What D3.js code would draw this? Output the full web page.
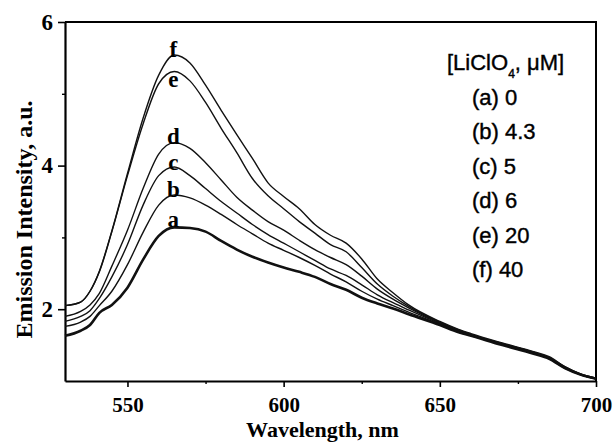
<!DOCTYPE html>
<html>
<head>
<meta charset="utf-8">
<script src="https://cdn.jsdelivr.net/npm/d3@7"></script>
<style>
  body { margin: 0; background: #fff; }
  svg { display: block; }
</style>
</head>
<body>
<div class="chart"></div>
<script>
// wavelength grid, nm
const wavelength = [530, 535, 538, 541, 545, 550, 555, 560, 565, 570, 575, 580, 585, 590, 595, 600, 605, 610, 615, 620, 625, 630, 635, 640, 650, 656, 660, 670, 680, 685, 690, 695, 700]

// emission intensity, a.u.
const seriesA = [1.63, 1.70, 1.78, 1.95, 2.06, 2.30, 2.69, 3.02, 3.14, 3.13, 3.08, 2.95, 2.83, 2.73, 2.65, 2.58, 2.52, 2.45, 2.35, 2.27, 2.16, 2.08, 2.01, 1.93, 1.78, 1.68, 1.63, 1.50, 1.38, 1.31, 1.18, 1.09, 1.03]
const seriesB = [1.76, 1.82, 1.90, 2.05, 2.25, 2.62, 3.07, 3.45, 3.59, 3.55, 3.45, 3.32, 3.18, 3.05, 2.92, 2.82, 2.72, 2.61, 2.49, 2.38, 2.25, 2.14, 2.05, 1.96, 1.79, 1.68, 1.63, 1.51, 1.39, 1.31, 1.18, 1.09, 1.03]
const seriesC = [1.83, 1.90, 1.98, 2.15, 2.45, 2.90, 3.45, 3.86, 3.98, 3.86, 3.68, 3.50, 3.34, 3.18, 3.04, 2.92, 2.80, 2.68, 2.56, 2.47, 2.34, 2.20, 2.09, 1.99, 1.80, 1.69, 1.64, 1.51, 1.39, 1.32, 1.19, 1.09, 1.03]
const seriesD = [1.90, 1.97, 2.06, 2.22, 2.60, 3.10, 3.68, 4.16, 4.32, 4.24, 4.04, 3.80, 3.56, 3.38, 3.22, 3.10, 2.96, 2.83, 2.72, 2.62, 2.46, 2.28, 2.14, 2.02, 1.81, 1.70, 1.64, 1.52, 1.40, 1.32, 1.19, 1.09, 1.03]
const seriesE = [2.05, 2.10, 2.25, 2.52, 3.08, 3.86, 4.58, 5.14, 5.31, 5.18, 4.88, 4.52, 4.18, 3.82, 3.58, 3.40, 3.22, 3.06, 2.90, 2.80, 2.58, 2.35, 2.18, 2.04, 1.82, 1.71, 1.65, 1.52, 1.40, 1.33, 1.20, 1.10, 1.04]
const seriesF = [2.05, 2.10, 2.25, 2.53, 3.09, 3.89, 4.66, 5.26, 5.54, 5.43, 5.12, 4.77, 4.43, 4.10, 3.76, 3.57, 3.40, 3.18, 3.03, 2.92, 2.70, 2.42, 2.23, 2.06, 1.83, 1.72, 1.66, 1.53, 1.41, 1.34, 1.20, 1.10, 1.04]

const curveLabels = ['a', 'b', 'c', 'd', 'e', 'f']
const concentrations = ['0', '4.3', '5', '6', '20', '40']

const xTicks = [550, 600, 650, 700]
const xMinorTicks = [575, 625, 675]
const yTicks = [2, 4, 6]
const yMinorTicks = [3, 5]

const allSeries = [seriesA, seriesB, seriesC, seriesD, seriesE, seriesF]

let width = 615
let height = 445
let margin = {top: 22, right: 19, bottom: 64, left: 65}

const svg = d3.select('.chart').append('svg')
  .attr('width', width)
  .attr('height', height)
  .attr('viewBox', [0, 0, width, height])

let x = d3.scaleLinear()
  .domain([530, 700])
  .range([margin.left, width - margin.right])

let y = d3.scaleLinear()
  .domain([1, 6])
  .range([height - margin.bottom, margin.top])

const serif = '"Liberation Serif", "Times New Roman", serif'
const sans = '"Liberation Sans", Arial, sans-serif'

// frame (top + right)
svg.append('path')
  .attr('d', `M${x(530)},${y(6)}H${x(700)}V${y(1)}`)
  .attr('fill', 'none')
  .attr('stroke', '#000')
  .attr('stroke-width', 2)

// axes
let styleAxis = g => {
  g.select('.domain').attr('stroke-width', 2.2)
  g.selectAll('.tick line').attr('stroke-width', 1.6)
  g.selectAll('.tick text')
    .attr('font-family', serif)
    .attr('font-size', 21)
    .attr('font-weight', 'bold')
    .attr('fill', '#000')
}

svg.append('g')
  .attr('transform', `translate(0,${y(1)})`)
  .call(d3.axisBottom(x).tickValues(xTicks).tickSize(6).tickPadding(10).tickSizeOuter(0))
  .call(styleAxis)

svg.append('g')
  .attr('transform', `translate(0,${y(1)})`)
  .call(d3.axisBottom(x).tickValues(xMinorTicks).tickSize(3).tickFormat('').tickSizeOuter(0))
  .call(g => g.select('.domain').remove())
  .call(g => g.selectAll('.tick line').attr('stroke-width', 1.4))

svg.append('g')
  .attr('transform', `translate(${x(530)},0)`)
  .call(d3.axisLeft(y).tickValues(yTicks).tickFormat(d3.format('d')).tickSize(7).tickPadding(5).tickSizeOuter(0))
  .call(styleAxis)
  .call(g => g.selectAll('.tick text').attr('font-size', 23))

svg.append('g')
  .attr('transform', `translate(${x(530)},0)`)
  .call(d3.axisLeft(y).tickValues(yMinorTicks).tickSize(3).tickFormat('').tickSizeOuter(0))
  .call(g => g.select('.domain').remove())
  .call(g => g.selectAll('.tick line').attr('stroke-width', 1.4))

// axis titles
svg.append('text')
  .attr('x', (x(530) + x(700)) / 2 - 8)
  .attr('y', 437)
  .attr('text-anchor', 'middle')
  .attr('font-family', serif)
  .attr('font-size', 22)
  .attr('font-weight', 'bold')
  .text('Wavelength, nm')

svg.append('text')
  .attr('transform', `translate(32,${(y(1) + y(6)) / 2 + 18}) rotate(-90)`)
  .attr('text-anchor', 'middle')
  .attr('font-family', serif)
  .attr('font-size', 24)
  .attr('font-weight', 'bold')
  .text('Emission Intensity, a.u.')

// curves
let line = d3.line()
  .x((d, i) => x(wavelength[i]))
  .y(d => y(d))
  .curve(d3.curveMonotoneX)

svg.append('g')
    .attr('fill', 'none')
    .attr('stroke', '#111')
    .attr('stroke-linejoin', 'round')
  .selectAll('path')
  .data(allSeries)
  .join('path')
    .attr('stroke-width', (d, i) => i === 0 ? 2.6 : 1.4)
    .attr('d', line)

// curve letters at the peaks
let labelShift = [0, 2, 3, 1, 15, 2]
svg.append('g')
    .attr('font-family', serif)
    .attr('font-size', 23)
    .attr('font-weight', 'bold')
    .attr('text-anchor', 'middle')
  .selectAll('text')
  .data(allSeries)
  .join('text')
    .attr('x', (d, i) => x(wavelength[d.indexOf(d3.max(d))]) - 1)
    .attr('y', (d, i) => y(d3.max(d)) + labelShift[i])
    .text((d, i) => curveLabels[i])

// legend
let legend = svg.append('g')
  .attr('font-family', sans)
  .attr('font-size', 22)
  .attr('fill', '#000')
  .attr('stroke', '#000')
  .attr('stroke-width', 0.4)

let title = legend.append('text')
  .attr('x', 447)
  .attr('y', 70)
title.append('tspan').text('[LiClO')
title.append('tspan').attr('font-size', 12).attr('dy', 8).text('4')
title.append('tspan').attr('dy', -8).text(', \u03bcM]')

legend.selectAll('text.item')
  .data(concentrations)
  .join('text')
    .attr('class', 'item')
    .attr('x', 472)
    .attr('y', (d, i) => 105 + i * 34.4)
    .text((d, i) => `(${curveLabels[i]}) ${d}`)
</script>
</body>
</html>
